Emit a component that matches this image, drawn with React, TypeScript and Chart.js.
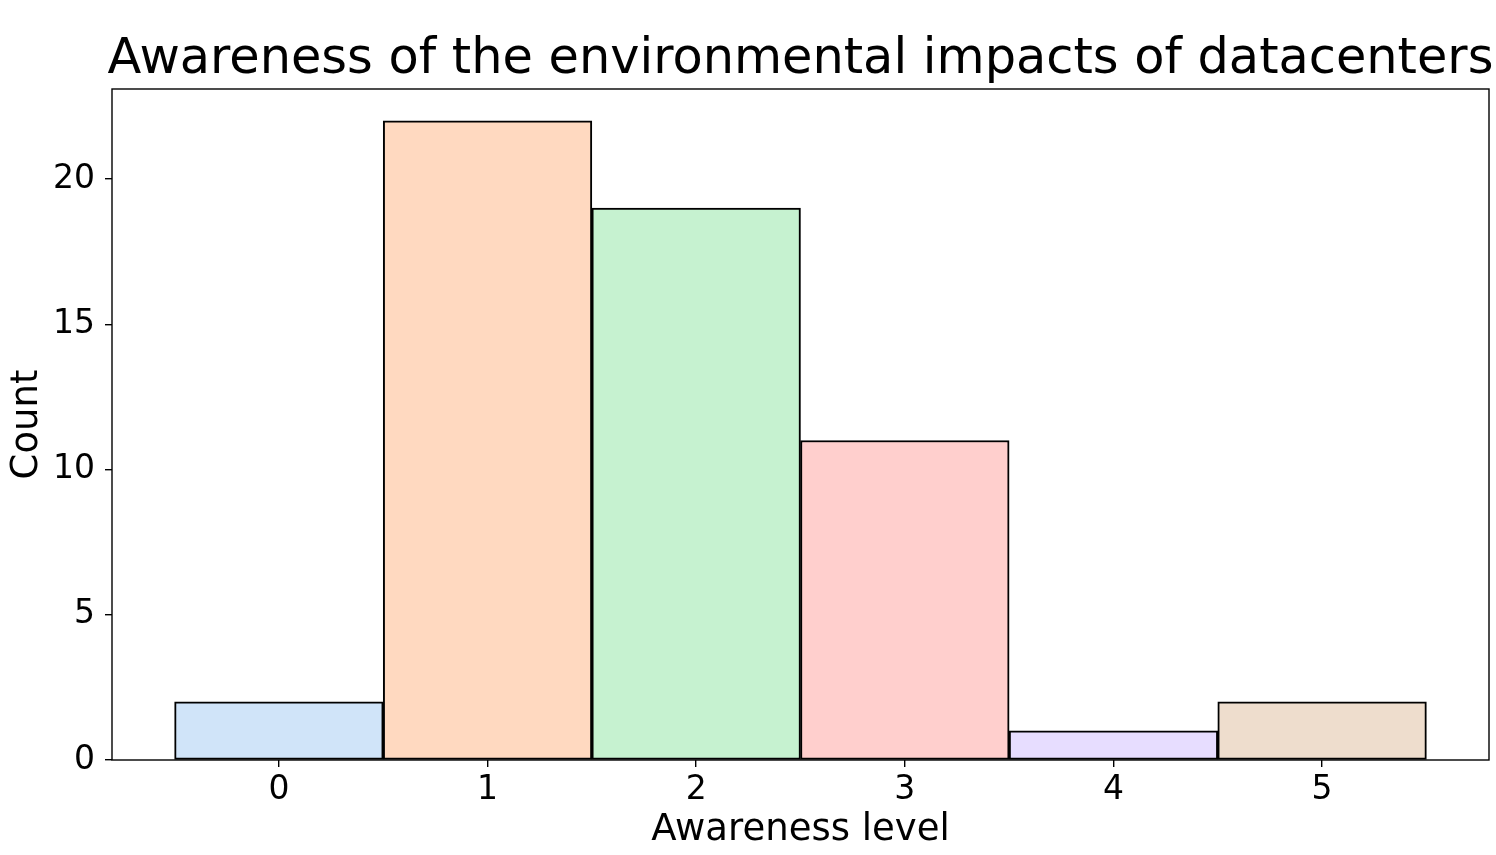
import React, { useEffect, useRef } from "react";
import { Chart, registerables } from "chart.js";

Chart.register(...registerables);

const TITLE = "Awareness of the environmental impacts of datacenters";
const X_LABEL = "Awareness level";
const Y_LABEL = "Count";
const CATEGORIES = [0, 1, 2, 3, 4, 5];
const COUNTS = [2, 22, 19, 11, 1, 2];
const BAR_COLORS = ["#d0e4f9", "#ffd9c0", "#c6f2d0", "#ffcfcd", "#e7ddff", "#eeddcd"];
const X_TICKS = [0, 1, 2, 3, 4, 5];
const Y_TICKS = [0, 5, 10, 15, 20];
const X_MIN = -0.8;
const X_MAX = 5.8;
const Y_MIN = 0;
const Y_MAX = 23.1;

const FONT = "'DejaVu Sans', sans-serif";

const frame = {
  id: "frame",
  afterLayout(chart: any) {
    const t = chart.titleBlock;
    if (t) {
      t.left -= 300;
      t.right += 300;
      t.width += 600;
    }
  },
  afterDatasetsDraw(chart: any) {
    const { ctx, chartArea } = chart;
    ctx.save();
    ctx.strokeStyle = "#000";
    ctx.lineWidth = 1.4;
    ctx.strokeRect(chartArea.left, chartArea.top, chartArea.right - chartArea.left, chartArea.bottom - chartArea.top);
    ctx.restore();
  },
};

export default function App() {
  const ref = useRef<HTMLCanvasElement | null>(null);
  useEffect(() => {
    if (!ref.current) return;
    const chart = new Chart(ref.current, {
      type: "bar",
      data: {
        datasets: [
          {
            data: CATEGORIES.map((c, i) => ({ x: c, y: COUNTS[i] })),
            backgroundColor: BAR_COLORS,
            borderColor: "#000",
            borderWidth: 2,
            borderSkipped: false,
            barPercentage: 1,
            categoryPercentage: 1,
          },
        ],
      },
      options: {
        animation: false,
        responsive: false,
        devicePixelRatio: 1,
        layout: { padding: { left: 0, right: 7, top: 0, bottom: 0 } },
        plugins: {
          legend: { display: false },
          tooltip: { enabled: false },
          title: {
            display: true,
            text: TITLE,
            fullSize: false,
            color: "#000",
            font: { family: FONT, size: 49.4, weight: "normal", lineHeight: 1 },
            padding: { top: 35, bottom: 4.6 },
          },
        },
        scales: {
          x: {
            type: "linear",
            min: X_MIN,
            max: X_MAX,
            offset: false,
            afterBuildTicks: (s: any) => {
              s.ticks = X_TICKS.map((v) => ({ value: v }));
            },
            afterFit: (s: any) => {
              s.height = 95;
            },
            grid: { display: true, offset: false, drawOnChartArea: false, drawTicks: true, tickLength: 7, color: "#000", lineWidth: 1.4 },
            border: { display: false },
            ticks: { color: "#000", font: { family: FONT, size: 33 }, padding: 4, maxRotation: 0, autoSkip: false },
            title: {
              display: true,
              text: X_LABEL,
              color: "#000",
              font: { family: FONT, size: 37 },
              padding: { top: 4, bottom: 2 },
            },
          },
          y: {
            type: "linear",
            min: Y_MIN,
            max: Y_MAX,
            afterBuildTicks: (s: any) => {
              s.ticks = Y_TICKS.map((v) => ({ value: v }));
            },
            afterFit: (s: any) => {
              s.width = 112;
            },
            grid: { display: true, offset: false, drawOnChartArea: false, drawTicks: true, tickLength: 7, color: "#000", lineWidth: 1.4 },
            border: { display: false },
            ticks: { color: "#000", font: { family: FONT, size: 33 }, padding: 10 },
            title: {
              display: true,
              text: Y_LABEL,
              color: "#000",
              font: { family: FONT, size: 37 },
              padding: { top: 5, bottom: 4 },
            },
          },
        },
      },
      plugins: [frame],
    });
    return () => chart.destroy();
  }, []);
  return (
    <div style={{ position: "fixed", left: 0, top: 0, width: 1496, height: 855, background: "#fff" }}>
      <canvas ref={ref} width={1496} height={855} style={{ width: 1496, height: 855 }} />
    </div>
  );
}
